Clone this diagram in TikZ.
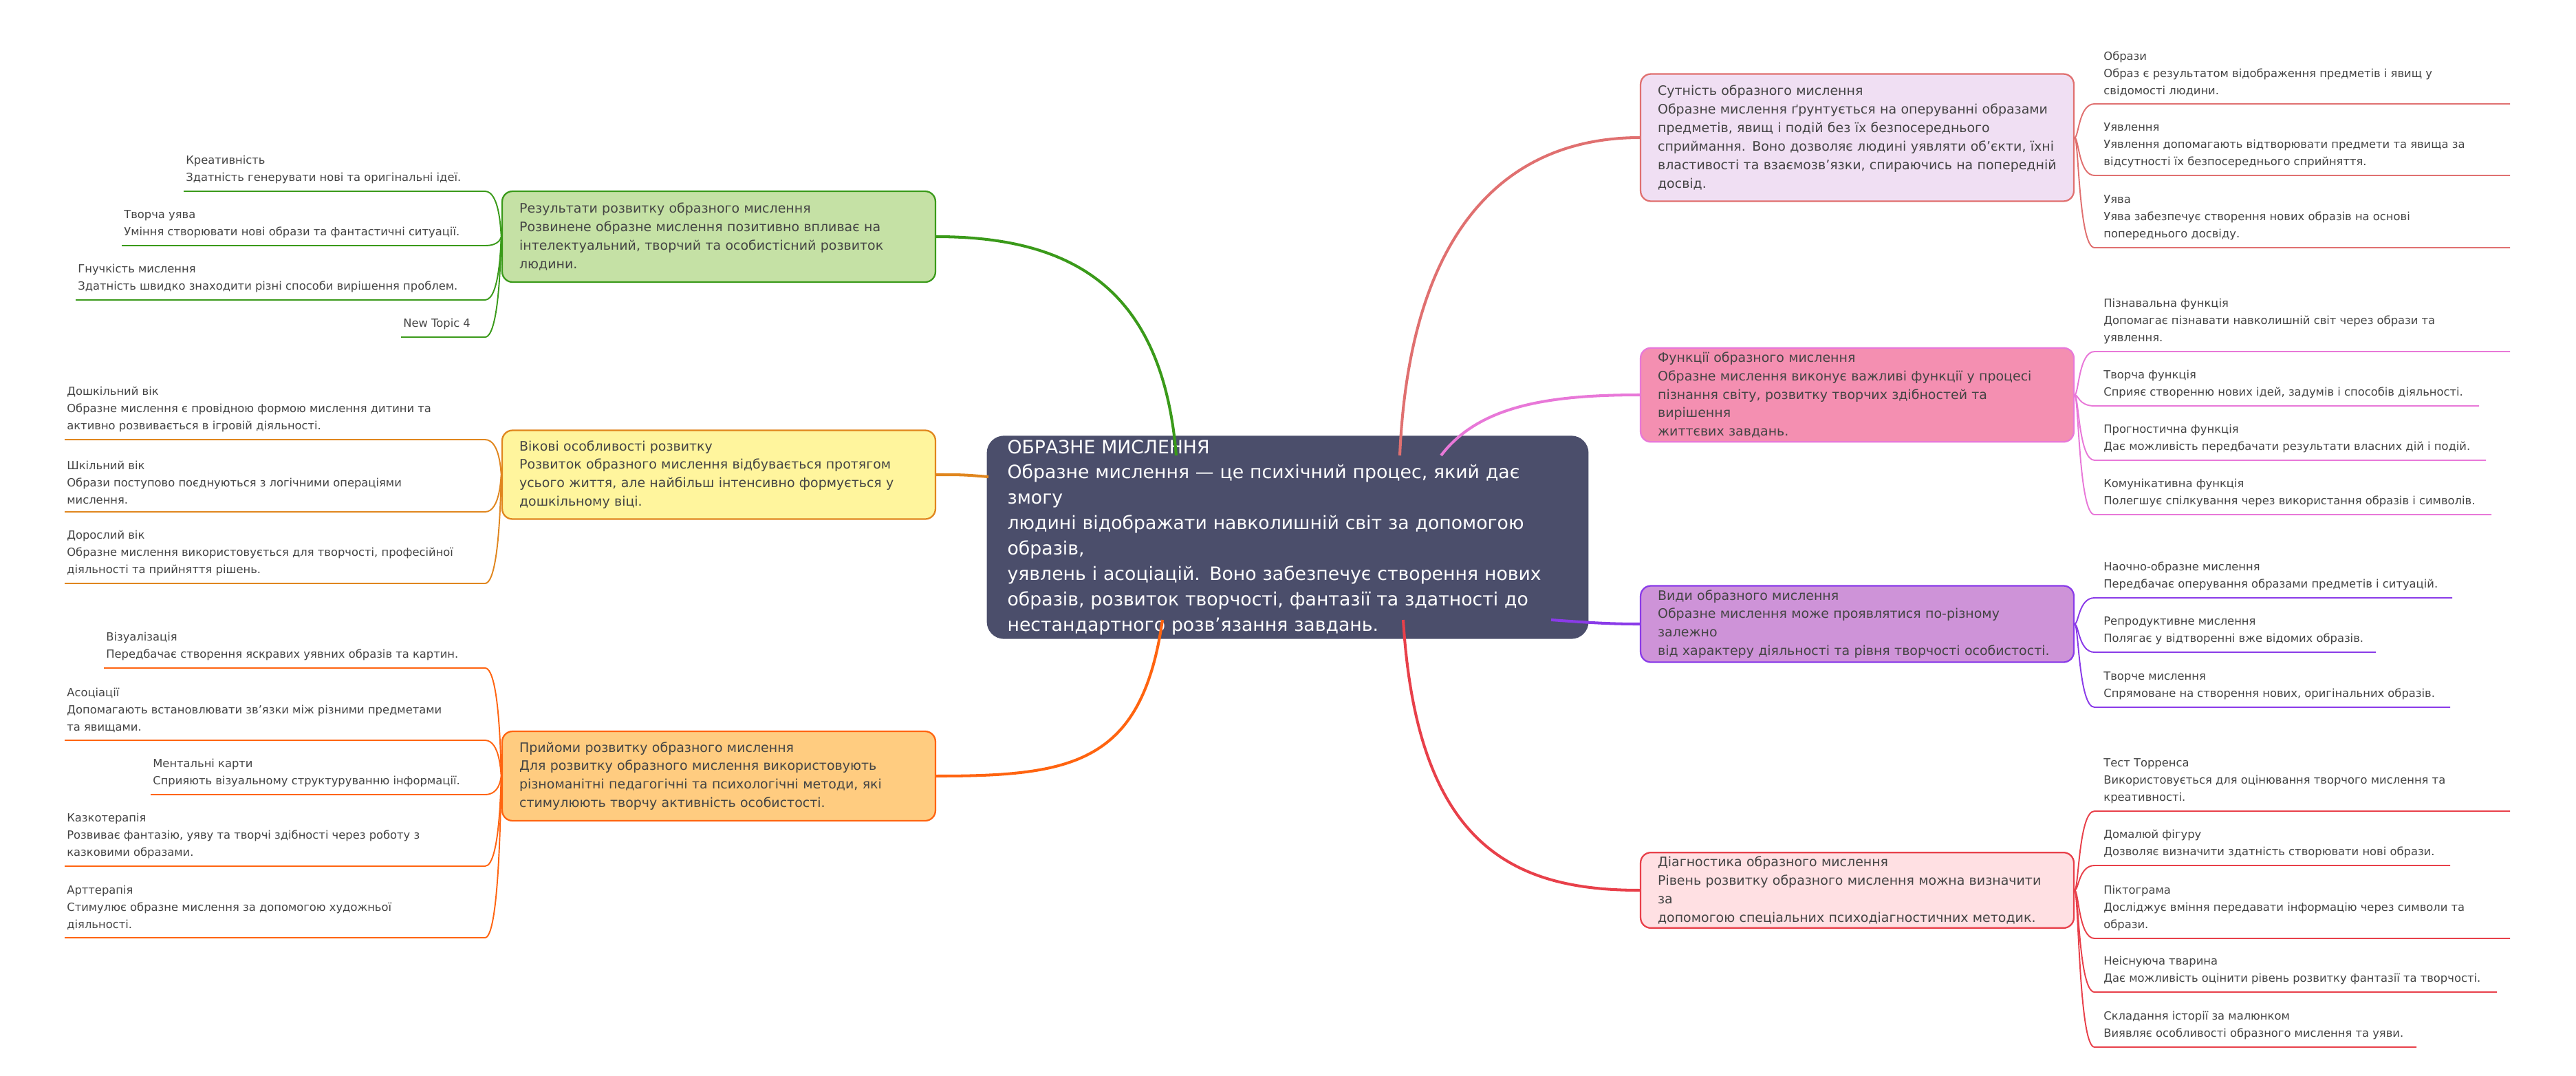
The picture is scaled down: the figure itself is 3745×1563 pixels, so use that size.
\documentclass[tikz,border=0pt]{standalone}
\usepackage{fontspec}
\setmainfont{DejaVu Sans}
\definecolor{cbg}{HTML}{4B4E6B}
\definecolor{gline}{HTML}{3A9A1A}\definecolor{gfill}{HTML}{C5E1A5}
\definecolor{yline}{HTML}{E0861E}\definecolor{yfill}{HTML}{FFF59D}
\definecolor{oline}{HTML}{FF6410}\definecolor{ofill}{HTML}{FFCC80}
\definecolor{eline}{HTML}{E07070}\definecolor{efill}{HTML}{F0DFF3}
\definecolor{fline}{HTML}{E878D8}\definecolor{ffill}{HTML}{F48FB1}
\definecolor{tline}{HTML}{8A3BE8}\definecolor{tfill}{HTML}{CE93D8}
\definecolor{dline}{HTML}{E8404A}\definecolor{dfill}{HTML}{FFE0E3}
\definecolor{txt}{HTML}{444444}
\tikzset{
 leaf/.style={align=left,inner sep=0pt,text=txt,font=\fontsize{9.3}{14.2}\selectfont},
 mainbox/.style={rectangle,rounded corners=0.3cm,line width=1.3pt,minimum width=12.6cm,text width=11.6cm,align=left,inner xsep=0.5cm,text=txt,font=\fontsize{10.8}{15.3}\selectfont},
 br/.style={line width=2.3pt},
 sub/.style={line width=1.1pt},
}
\begin{document}
\begin{tikzpicture}[x=0.02cm,y=-0.02cm]
\useasboundingbox (0,0) rectangle (3745,1563);
% central
\node[rectangle,rounded corners=0.5cm,fill=cbg,minimum width=17.5cm,minimum height=4.86cm,text width=16.3cm,align=left,text=white,font=\fontsize{15.2}{21}\selectfont] (c) at (1872,781)
{ОБРАЗНЕ МИСЛЕННЯ\\Образне мислення — це психічний процес, який дає змогу\\людині відображати навколишній світ за допомогою образів,\\уявлень і асоціацій. Воно забезпечує створення нових\\образів, розвиток творчості, фантазії та здатності до\\нестандартного розв'язання завдань.};
% main boxes
\node[mainbox,draw=gline,fill=gfill,minimum height=2.64cm] (g) at (1045,344) {Результати розвитку образного мислення\\Розвинене образне мислення позитивно впливає на\\інтелектуальний, творчий та особистісний розвиток\\людини.};
\node[mainbox,draw=yline,fill=yfill,minimum height=2.58cm] (y) at (1045,690) {Вікові особливості розвитку\\Розвиток образного мислення відбувається протягом\\усього життя, але найбільш інтенсивно формується у\\дошкільному віці.};
\node[mainbox,draw=oline,fill=ofill,minimum height=2.6cm] (o) at (1045,1128) {Прийоми розвитку образного мислення\\Для розвитку образного мислення використовують\\різноманітні педагогічні та психологічні методи, які\\стимулюють творчу активність особистості.};
\node[mainbox,draw=eline,fill=efill,minimum height=3.7cm] (e) at (2700,200) {Сутність образного мислення\\Образне мислення ґрунтується на оперуванні образами\\предметів, явищ і подій без їх безпосереднього\\сприймання. Воно дозволяє людині уявляти об'єкти, їхні\\властивості та взаємозв'язки, спираючись на попередній\\досвід.};
\node[mainbox,draw=fline,fill=ffill,minimum height=2.56cm] (f) at (2700,574) {Функції образного мислення\\Образне мислення виконує важливі функції у процесі\\пізнання світу, розвитку творчих здібностей та вирішення\\життєвих завдань.};
\node[mainbox,draw=tline,fill=tfill,minimum height=2.02cm] (t) at (2700,907) {Види образного мислення\\Образне мислення може проявлятися по-різному залежно\\від характеру діяльності та рівня творчості особистості.};
\node[mainbox,draw=dline,fill=dfill,minimum height=2.04cm] (d) at (2700,1294) {Діагностика образного мислення\\Рівень розвитку образного мислення можна визначити за\\допомогою спеціальних психодіагностичних методик.};
% central branches
\coordinate (cg) at (1710,662);\coordinate (cy) at (1437,693);\coordinate (co) at (1690,901);
\coordinate (ce) at (2035,662);\coordinate (cf) at (2095,662);\coordinate (ct) at (2255,901);\coordinate (cd) at (2040,901);
\draw[br,gline] (cg) .. controls (1690,420) and (1560,344) .. (g.east);
\draw[br,yline] (cy) .. controls (1400,690) .. (y.east);
\draw[br,oline] (co) .. controls (1660,1110) and (1560,1128) .. (o.east);
\draw[br,eline] (ce) .. controls (2050,320) and (2200,200) .. (e.west);
\draw[br,fline] (cf) .. controls (2150,590) and (2250,574) .. (f.west);
\draw[br,tline] (ct) .. controls (2310,905) and (2340,907) .. (t.west);
\draw[br,dline] (cd) .. controls (2060,1230) and (2200,1294) .. (d.west);
% left leaves
\foreach \n/\x/\yy/\tx/\col/\pp/\py in {
 g1/270/278/{Креативність\\Здатність генерувати нові та оригінальні ідеї.}/gline/g/344,
 g2/180/357/{Творча уява\\Уміння створювати нові образи та фантастичні ситуації.}/gline/g/344,
 g3/113/436/{Гнучкість мислення\\Здатність швидко знаходити різні способи вирішення проблем.}/gline/g/344,
 g4/586/490/{New Topic 4}/gline/g/344,
 y1/97/639/{Дошкільний вік\\Образне мислення є провідною формою мислення дитини та\\активно розвивається в ігровій діяльності.}/yline/y/690,
 y2/97/744/{Шкільний вік\\Образи поступово поєднуються з логічними операціями\\мислення.}/yline/y/690,
 y3/97/848/{Дорослий вік\\Образне мислення використовується для творчості, професійної\\діяльності та прийняття рішень.}/yline/y/690,
 o1/154/971/{Візуалізація\\Передбачає створення яскравих уявних образів та картин.}/oline/o/1128,
 o2/97/1076/{Асоціації\\Допомагають встановлювати зв'язки між різними предметами\\та явищами.}/oline/o/1128,
 o3/222/1155/{Ментальні карти\\Сприяють візуальному структуруванню інформації.}/oline/o/1128,
 o4/97/1259/{Казкотерапія\\Розвиває фантазію, уяву та творчі здібності через роботу з\\казковими образами.}/oline/o/1128,
 o5/97/1363/{Арттерапія\\Стимулює образне мислення за допомогою художньої\\діяльності.}/oline/o/1128}{
 \node[leaf,anchor=south west] (\n) at (\x,\yy-11) {\tx};
 \coordinate (\n s) at (\x-3,\yy);
 \draw[sub,\col] (\n s) -- (705,\yy) .. controls (728,\yy) and (728,\py) .. (\pp.west);
}
% right leaves
\foreach \n/\yy/\xe/\tx/\col/\pp/\py in {
 e1/151/3649/{Образи\\Образ є результатом відображення предметів і явищ у\\свідомості людини.}/eline/e/200,
 e2/255/3649/{Уявлення\\Уявлення допомагають відтворювати предмети та явища за\\відсутності їх безпосереднього сприйняття.}/eline/e/200,
 e3/360/3649/{Уява\\Уява забезпечує створення нових образів на основі\\попереднього досвіду.}/eline/e/200,
 f1/511/3649/{Пізнавальна функція\\Допомагає пізнавати навколишній світ через образи та\\уявлення.}/fline/f/574,
 f2/590/3604/{Творча функція\\Сприяє створенню нових ідей, задумів і способів діяльності.}/fline/f/574,
 f3/669/3614/{Прогностична функція\\Дає можливість передбачати результати власних дій і подій.}/fline/f/574,
 f4/748/3622/{Комунікативна функція\\Полегшує спілкування через використання образів і символів.}/fline/f/574,
 t1/869/3565/{Наочно-образне мислення\\Передбачає оперування образами предметів і ситуацій.}/tline/t/907,
 t2/948/3454/{Репродуктивне мислення\\Полягає у відтворенні вже відомих образів.}/tline/t/907,
 t3/1028/3562/{Творче мислення\\Спрямоване на створення нових, оригінальних образів.}/tline/t/907,
 d1/1179/3649/{Тест Торренса\\Використовується для оцінювання творчого мислення та\\креативності.}/dline/d/1294,
 d2/1258/3562/{Домалюй фігуру\\Дозволяє визначити здатність створювати нові образи.}/dline/d/1294,
 d3/1364/3649/{Піктограма\\Досліджує вміння передавати інформацію через символи та\\образи.}/dline/d/1294,
 d4/1442/3630/{Неіснуюча тварина\\Дає можливість оцінити рівень розвитку фантазії та творчості.}/dline/d/1294,
 d5/1522/3513/{Складання історії за малюнком\\Виявляє особливості образного мислення та уяви.}/dline/d/1294}{
 \node[leaf,anchor=south west] (\n) at (3058,\yy-11) {\tx};
 \coordinate (\n s) at (\xe,\yy);
 \draw[sub,\col] (\pp.east) .. controls (3022,\py) and (3022,\yy) .. (3045,\yy) -- (\n s);
}
\end{tikzpicture}
\end{document}
